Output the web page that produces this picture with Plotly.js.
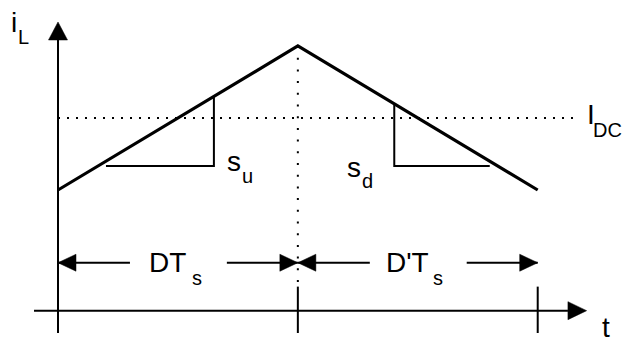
<!DOCTYPE html>
<html>
<head>
<meta charset="utf-8">
<script src="https://cdn.plot.ly/plotly-3.0.1.min.js"></script>
<style>
  html, body { margin: 0; padding: 0; background: #fff; }
  #chart { width: 623px; height: 343px; }
</style>
</head>
<body>
<div id="chart"></div>
<script>
// Inductor current over one switching period.
// Time is in units of Ts, current is normalised so valley = 0 and peak = 1.
const dutyD = 0.5;
const waveT = [0, 0.5, 1];          // 0, D*Ts, Ts
const waveI = [0, 1, 0];            // valley, peak, valley
const avgI = 0.5;                   // I_DC level

// slope triangles on the rising (s_u) and falling (s_d) edges
const slopeUpT = [0.1, 0.325, 0.325];
const slopeUpI = [0.1667, 0.1667, 0.65];
const slopeDnT = [0.701, 0.701, 0.9];
const slopeDnI = [0.598, 0.1667, 0.1667];

// the two sub-intervals of the period
const intervalStart = [0, 0.5];
const intervalEnd = [0.5, 1];
const intervalMain = ['DT', "D'T"];
const intervalSub = ['s', 's'];

// ---- drawing ----
const W = 623, H = 343;
const X_RANGE = [-0.1209, 1.1778];
const Y_RANGE = [-1.0625, 1.3194];

const ROW_AXIS = -0.838;     // level of the time axis
const ROW_DIM = -0.505;      // level of the interval arrows
const AXIS_BOTTOM = -0.993;
const TICK_TOP = -0.671;
const YAXIS_TOP = 1.0417;
const XAXIS_LEFT = -0.05, XAXIS_RIGHT = 1.063;
const DC_END = 1.084;
const DOT_BOTTOM = -0.646;
const textGap = [[0.150, 0.352], [0.650, 0.852]];

const black = '#000';
const traces = [];

// average level (dotted)
traces.push({x: [0, DC_END], y: [avgI, avgI], mode: 'lines',
  line: {color: black, width: 2, dash: '2px,7px'}, hoverinfo: 'skip'});
// switching instant (dotted)
traces.push({x: [waveT[1], waveT[1]], y: [waveI[1], DOT_BOTTOM], mode: 'lines',
  line: {color: black, width: 2, dash: '2px,9.7px'}, hoverinfo: 'skip'});
// slope triangles
traces.push({x: slopeUpT, y: slopeUpI, mode: 'lines', line: {color: black, width: 2}, hoverinfo: 'skip'});
traces.push({x: slopeDnT, y: slopeDnI, mode: 'lines', line: {color: black, width: 2}, hoverinfo: 'skip'});
// the inductor current
traces.push({x: waveT, y: waveI, mode: 'lines', line: {color: black, width: 3.2}, hoverinfo: 'skip'});

const shapes = [];
const seg = (x0, y0, x1, y1, w) => shapes.push({type: 'line', xref: 'x', yref: 'y',
  x0, y0, x1, y1, line: {color: black, width: w || 2}});
const head = (x, y, path) => shapes.push({type: 'path', xref: 'x', yref: 'y',
  xsizemode: 'pixel', ysizemode: 'pixel', xanchor: x, yanchor: y, path,
  fillcolor: black, line: {color: black, width: 0.5}});

// i_L axis
seg(0, AXIS_BOTTOM, 0, YAXIS_TOP);
head(0, YAXIS_TOP, 'M-9.5,0 L9.5,0 L0,18 Z');
// t axis
seg(XAXIS_LEFT, ROW_AXIS, XAXIS_RIGHT, ROW_AXIS);
head(XAXIS_RIGHT, ROW_AXIS, 'M0,-9 L0,9 L18.7,0 Z');
// ticks at D*Ts and Ts
seg(intervalEnd[0], TICK_TOP, intervalEnd[0], AXIS_BOTTOM);
seg(intervalEnd[1], TICK_TOP, intervalEnd[1], AXIS_BOTTOM);
// interval arrows
for (let k = 0; k < intervalStart.length; k++) {
  seg(intervalStart[k], ROW_DIM, textGap[k][0], ROW_DIM);
  seg(textGap[k][1], ROW_DIM, intervalEnd[k], ROW_DIM);
  head(intervalStart[k], ROW_DIM, 'M0,0 L18,8.5 L18,-8.5 Z');
  head(intervalEnd[k], ROW_DIM, 'M0,0 L-18,8.5 L-18,-8.5 Z');
}

// text pieces: pixel origin x, baseline y, font size
const FONT = 'Liberation Sans, Arial, Helvetica, sans-serif';
const ASC = 0.905;
const pieces = [
  ['i', 10, 31.7, 28], ['L', 16.8, 42.7, 20],
  ['I', 585.7, 123.3, 28], ['DC', 591.7, 136, 20],
  ['s', 226.4, 170, 28], ['u', 241.4, 181.7, 20],
  ['s', 345.8, 176.7, 28], ['d', 361, 186.7, 20],
  [intervalMain[0], 147.8, 271.7, 28], [intervalSub[0], 191.1, 284, 20],
  [intervalMain[1], 384.5, 271.7, 28], [intervalSub[1], 432.4, 284, 20],
  ['t', 601.2, 336.5, 28]
];
const annotations = pieces.map(([txt, ox, base, size]) => ({
  text: txt, showarrow: false, xref: 'paper', yref: 'paper',
  x: (ox - 1) / W, y: 1 - (base - ASC * size - 1) / H,
  xanchor: 'left', yanchor: 'top', align: 'left',
  font: {family: FONT, size, color: black}
}));

const layout = {
  width: W, height: H,
  margin: {l: 0, r: 0, t: 0, b: 0, pad: 0},
  paper_bgcolor: '#fff', plot_bgcolor: '#fff',
  showlegend: false,
  xaxis: {visible: false, range: X_RANGE, fixedrange: true},
  yaxis: {visible: false, range: Y_RANGE, fixedrange: true},
  shapes, annotations
};

Plotly.newPlot('chart', traces, layout, {displayModeBar: false, staticPlot: true});
</script>
</body>
</html>
